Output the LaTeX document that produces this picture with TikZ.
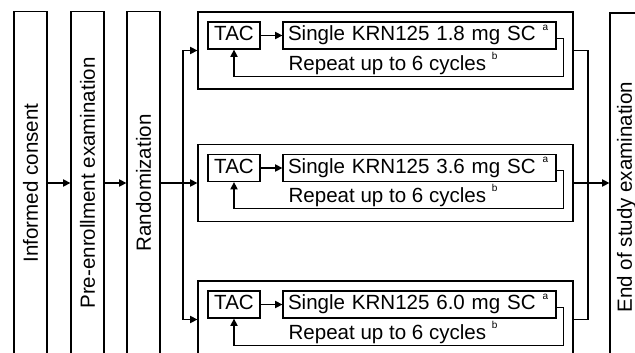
\documentclass[tikz,border=0pt]{standalone}
\usepackage{fontspec}
\setmainfont{Liberation Sans}
\usetikzlibrary{arrows.meta}
\newcommand{\fnm}[1]{\smash{\raisebox{8pt}{\fontsize{7.5}{7.5}\selectfont #1}}}

\begin{document}
\begin{tikzpicture}[x=0.75pt, y={(0pt,-0.75pt)}, line width=0.95pt,
  >={Triangle[length=5.5pt,width=5.5pt]},
  every node/.style={font=\fontsize{15.4}{18}\selectfont, inner sep=0pt},
  stage/.style={draw, rotate=90, minimum width=257.25pt, minimum height=24.75pt},
  arm/.style={draw, minimum width=281.25pt, minimum height=57.75pt},
  drug/.style={draw, minimum height=20.25pt, text height=11pt, text depth=3pt},
  tac/.style={drug, minimum width=39pt},
  dose/.style={drug, inner xsep=3.75pt, text width=197.25pt, align=left}]

  \useasboundingbox (0, 0) rectangle (635, 353);

  \node[stage] (a) at (30.5, 183) {Informed consent};
  \node[stage] (b) at (87.5, 183) {Pre-enrollment examination};
  \node[stage] (c) at (143.5, 183) {Randomization};
  \node[stage, minimum width=276pt] (d) at (626.5, 197) {End of study examination};

  \node[arm] (e1) at (385.5, 50.5) {};
  \node[arm] (e2) at (385.5, 183) {};
  \node[arm] (e3) at (385.5, 319.5) {};

  \node[tac] (f1) at (234, 35.5) {TAC};
  \node[tac] (f2) at (234, 168) {TAC};
  \node[tac] (f3) at (234, 304.5) {TAC};
  \node[dose] (g1) at (419.5, 35.5) {Single KRN125 1.8 mg SC \fnm{a}};
  \node[dose] (g2) at (419.5, 168) {Single KRN125 3.6 mg SC \fnm{a}};
  \node[dose] (g3) at (419.5, 304.5) {Single KRN125 6.0 mg SC \fnm{a}};
  \node[anchor=base west] (h1) at (288, 70) {Repeat up to 6 cycles \fnm{b}};
  \node[anchor=base west] (h2) at (288, 202.5) {Repeat up to 6 cycles \fnm{b}};
  \node[anchor=base west] (h3) at (288, 339) {Repeat up to 6 cycles \fnm{b}};

  \coordinate (k) at (183, 183);
  \coordinate (m) at (588, 183);

  \draw [->] (a) to (b);
  \draw [->] (b) to (c);
  \draw (c) to (k);
  \draw [->] (k) |- (e1);
  \draw [->] (k) to (e2);
  \draw [->] (k) |- (e3);

  \draw [->] (f1) to (g1);
  \draw [->] (f2) to (g2);
  \draw [->] (f3) to (g3);
  \draw [->] ([yshift=-2pt]g1.east) -| ++(7, 38) -| (f1.south);
  \draw [->] ([yshift=-2pt]g2.east) -| ++(7, 38) -| (f2.south);
  \draw [->] ([yshift=-2pt]g3.east) -| ++(7, 38) -| (f3.south);

  \draw (e1) -| (m);
  \draw (e3) -| (m);
  \draw [->] (e2) to (e2 -| d.north);

\end{tikzpicture}
\end{document}
